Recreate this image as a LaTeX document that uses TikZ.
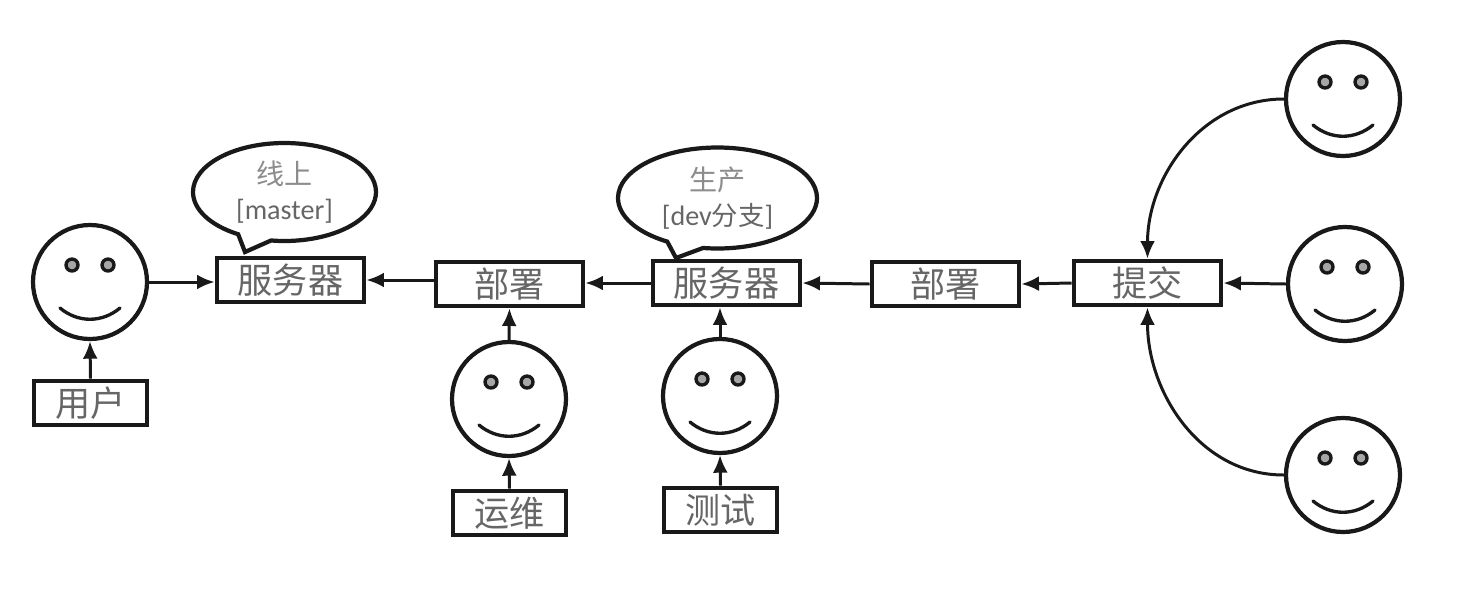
\documentclass[tikz,border=0pt]{standalone}
\usepackage{fontspec}
\setmainfont{Carlito}
\newfontfamily\cjk{Noto Sans CJK SC}
\usetikzlibrary{arrows.meta, calc, shapes.callouts}
\tikzset{
    boxN/.style={draw=black!90, line width=2.7pt, fill=white, inner sep=0pt, minimum height=44*0.02cm, font=\cjk\fontsize{20}{22}\selectfont, text=black!60},
    wideN/.style={boxN, minimum width=147*0.02cm},
    shortN/.style={boxN, minimum width=113*0.02cm},
    faceN/.style={draw=black!90, line width=2.4pt, circle, fill=white, inner sep=0pt, minimum size=114*0.02cm},
    bubbleN/.style={draw=black!90, line width=2.4pt, ellipse callout, callout pointer arc=22, fill=white, inner sep=0pt, align=center, text=black!60, font=\fontsize{16}{20}\selectfont},
    arw/.style={-{Latex[length=10pt,width=8.5pt]}, line width=1.7pt, black!90}
}
\begin{document}
\begin{tikzpicture}[x=0.02cm, y=-0.02cm]
    \useasboundingbox (0,0) rectangle (1466,609);
    % faces
    \foreach \nm/\xx/\yy in {faceA/90/282, faceB/509/399, faceC/720/396, faceD/1343/99, faceE/1345/284, faceF/1343/475}{
    \node[faceN] (\nm) at (\xx,\yy) {};
    \begin{scope}[shift={(\xx,\yy)}]
    \draw[line width=1.9pt, black!90, fill=black!35] (-18,-17) circle (6);
    \draw[line width=1.9pt, black!90, fill=black!35] (18,-17) circle (6);
    \draw[line width=1.9pt, black!90, line cap=round] (-30,26) .. controls (-12,41) and (12,41) .. (30,26);
    \end{scope}
    }
    % boxes
    \node[wideN] (serverA) at (290.5,280) {服务器};
    \node[wideN] (deployA) at (509.5,284) {部署};
    \node[wideN] (serverB) at (726.5,283) {服务器};
    \node[wideN] (deployB) at (945.5,284) {部署};
    \node[wideN] (commit) at (1147.5,283) {提交};
    \node[shortN] (user) at (90.5,403) {用户};
    \node[shortN] (ops) at (509.5,513) {运维};
    \node[shortN] (tester) at (720.5,510) {测试};
    % bubbles
    \node[bubbleN, minimum width=183*0.02cm, minimum height=98*0.02cm, callout absolute pointer={(245,252)}] (bubbleA) at (284.5,192) {{\cjk\fontsize{16}{20}\selectfont\color{black!45}线上}\\{[}master{]}};
    \node[bubbleN, minimum width=199*0.02cm, minimum height=101*0.02cm, callout absolute pointer={(676,258)}] (bubbleB) at (717.5,198) {{\cjk\fontsize{16}{20}\selectfont\color{black!45}生产}\\{[}dev{\cjk\fontsize{15}{20}\selectfont 分支}{]}};
    % connectors
    \draw[arw] (faceA.east) -- (faceA.east -| serverA.west);
    \draw[arw] (user.north) -- (faceA.south);
    \draw[arw] (deployA.west |- serverA.east) -- (serverA.east);
    \draw[arw] (serverB.west) -- (serverB.west -| deployA.east);
    \draw[arw] (faceB.north) -- (deployA.south);
    \draw[arw] (ops.north) -- (faceB.south);
    \draw[arw] (faceC.north) -- (faceC.north |- serverB.south);
    \draw[arw] (tester.north) -- (faceC.south);
    \draw[arw] (deployB.west) -- (serverB.east);
    \draw[arw] (commit.west) -- (deployB.east);
    \draw[arw] (faceE.west) -- (commit.east);
    \draw[arw] (faceD.west) to[out=180, in=90] (commit.north);
    \draw[arw] (faceF.west) to[out=180, in=-90] (commit.south);
\end{tikzpicture}
\end{document}
